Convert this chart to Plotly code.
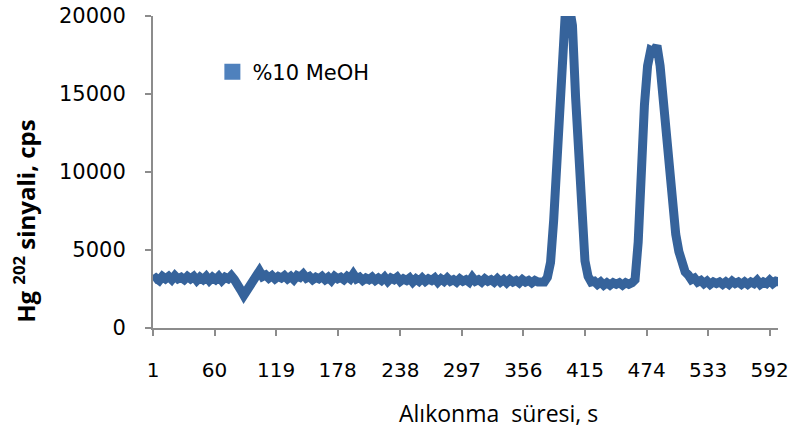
import plotly.graph_objects as go

# Retention time (s), sampled every 3 s
time_s = list(range(1, 602, 3))

# Hg-202 signal (cps)
signal_cps = [
    3050, 3200, 3050, 3300, 3150, 3300, 3100, 3350, 3150, 3250,
    3100, 3300, 3150, 3300, 3050, 3250, 3100, 3300, 3050, 3250,
    3100, 3300, 3050, 3250, 3150, 3350, 3100, 2850, 2450, 2100,
    2400, 2750, 3150, 3400, 3650, 3300, 3400, 3200, 3350, 3150,
    3300, 3200, 3350, 3150, 3300, 3100, 3350, 3250, 3450, 3200,
    3300, 3100, 3250, 3150, 3300, 3100, 3250, 3050, 3300, 3150,
    3250, 3100, 3300, 3150, 3450, 3150, 3250, 3050, 3200, 3100,
    3250, 3050, 3200, 3050, 3250, 3000, 3200, 3100, 3250, 3000,
    3150, 3050, 3200, 2950, 3150, 3000, 3200, 3000, 3150, 3050,
    3200, 2950, 3150, 3000, 3200, 3000, 3100, 2950, 3150, 3000,
    3100, 2950, 3250, 3000, 3100, 2950, 3150, 3000, 3100, 2950,
    3150, 2950, 3100, 2900, 3100, 2950, 3050, 2900, 3100, 2950,
    3050, 2900, 3050, 2950, 3000, 2950, 3250, 4200, 6900, 10800,
    15800, 19700, 21200, 20600, 19400, 14800, 10600, 6500, 4300, 3300,
    2950, 3000, 2800, 2950, 2750, 2900, 2750, 2900, 2800, 2900,
    2750, 2900, 2800, 2900, 3100, 5500, 10500, 14300, 16800, 17800,
    17700, 18100, 16800, 14600, 11800, 9600, 7600, 6000, 4900, 4100,
    3600, 3400, 3100, 3200, 2950, 3050, 2850, 3000, 2800, 2950,
    2850, 2950, 2800, 2950, 2800, 3000, 2850, 2950, 2800, 2950,
    2800, 2950, 2850, 3050, 2800, 2950, 2850, 3050, 2850, 3000,
    2950,
]

x_tick_vals = [1, 60, 119, 178, 238, 297, 356, 415, 474, 533, 592]
y_tick_vals = [0, 5000, 10000, 15000, 20000]
series_name = "%10 MeOH"

axis_col = "#8c8c8c"

fig = go.Figure()
fig.add_trace(go.Scatter(
    x=time_s, y=signal_cps, mode="lines",
    line=dict(color="#36639b", width=9),
    showlegend=False, hoverinfo="x+y",
))
fig.add_trace(go.Scatter(
    x=[None], y=[None], mode="markers", name=series_name,
    marker=dict(symbol="square", size=16, color="#4f81bd"),
))

fig.update_layout(
    width=789, height=438,
    margin=dict(l=153, r=11, t=16, b=110),
    paper_bgcolor="white", plot_bgcolor="white",
    showlegend=True,
    legend=dict(x=0.095, y=0.82, xanchor="left", yanchor="middle",
                font=dict(family="DejaVu Sans", size=21, color="#000000"),
                bgcolor="rgba(0,0,0,0)", itemwidth=30),
    xaxis=dict(range=[1, 600], tickmode="array", tickvals=x_tick_vals,
               ticktext=[str(v) for v in x_tick_vals],
               showgrid=False, zeroline=False, showline=True,
               linecolor=axis_col, linewidth=2, ticks="outside",
               ticklen=6, tickcolor=axis_col, tickwidth=1.5,
               tickfont=dict(family="DejaVu Sans", size=20, color="#000000"),
               ticklabelstandoff=17, automargin=False,
               ticklabeloverflow="allow"),
    yaxis=dict(range=[0, 20000], tickmode="array", tickvals=y_tick_vals,
               ticktext=[str(v) for v in y_tick_vals],
               showgrid=False, zeroline=False, showline=True,
               linecolor=axis_col, linewidth=2, ticks="outside",
               ticklen=6, tickcolor=axis_col, tickwidth=1.5,
               tickfont=dict(family="DejaVu Sans", size=21, color="#000000"),
               ticklabelstandoff=15, automargin=False,
               ticklabeloverflow="allow"),
    annotations=[
        dict(text="<b>Hg <sup>202</sup> sinyali, cps</b>", textangle=-90,
             xref="paper", yref="paper", x=-0.205, y=0.343,
             xanchor="center", yanchor="middle", showarrow=False,
             font=dict(family="Open Sans", size=24, color="#000000")),
        dict(text="Alıkonma  süresi, s",
             xref="paper", yref="paper", x=0.552, y=-0.272,
             xanchor="center", yanchor="middle", showarrow=False,
             font=dict(family="Open Sans", size=23, color="#000000")),
    ],
)

# remove the default 8px page margin so the figure fills the window
fig.write_html("out.html", config={"displayModeBar": False},
               post_script="document.body.style.margin='0';")
